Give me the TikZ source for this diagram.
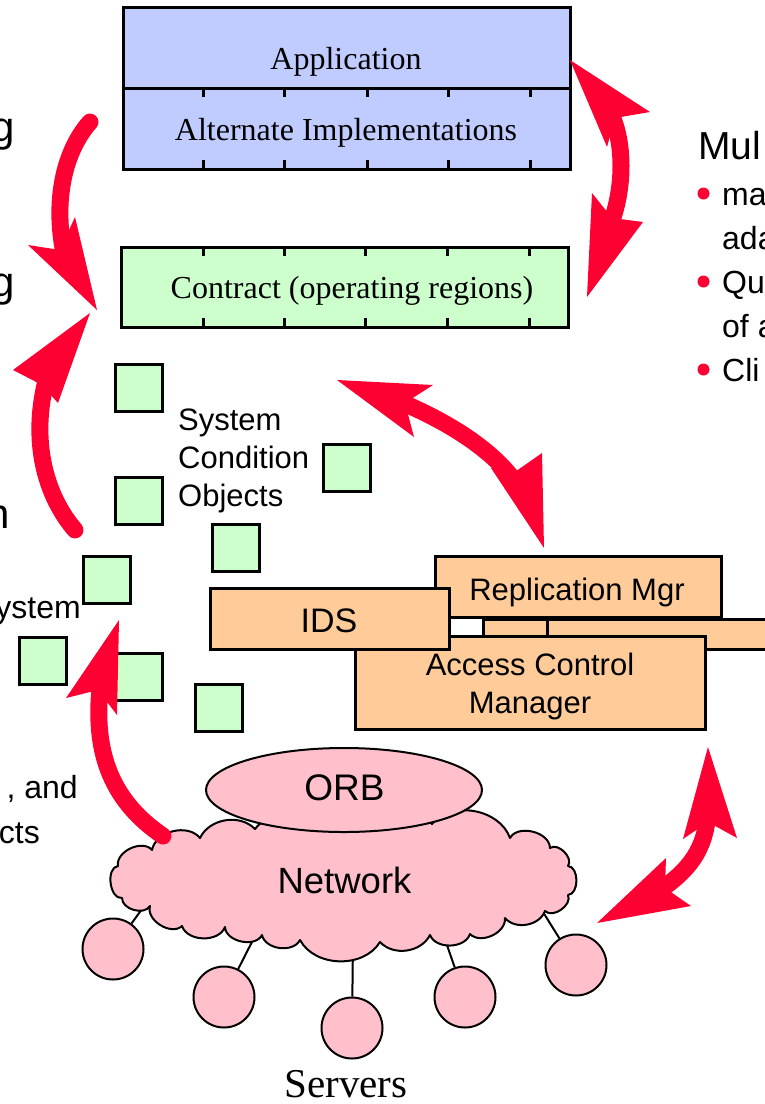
\documentclass[tikz,border=0pt]{standalone}
\usepackage{fontspec}
\setmainfont{Liberation Serif}
\setsansfont{Liberation Sans}
\usetikzlibrary{shapes.symbols,shapes.geometric}
\definecolor{appblue}{RGB}{192,204,255}
\definecolor{cgreen}{RGB}{204,255,204}
\definecolor{orng}{RGB}{255,204,153}
\definecolor{pnk}{RGB}{255,192,203}
\definecolor{ared}{RGB}{255,0,51}
\tikzset{
  boxstyle/.style={draw=black, line width=3pt, inner sep=0pt, outer sep=0pt, anchor=north west},
  appbox/.style={boxstyle, fill=appblue, minimum width=447pt, minimum height=81pt},
  conbox/.style={boxstyle, fill=cgreen, minimum width=447pt, minimum height=80pt},
  orbox/.style={boxstyle, fill=orng},
  sqbox/.style={draw=black, line width=2.5pt, fill=cgreen, minimum size=47pt, inner sep=0pt, anchor=north west},
  tickline/.style={line width=3pt},
  srv/.style={circle, draw=black, line width=2pt, fill=pnk, minimum size=61pt, inner sep=0pt},
  wire/.style={line width=2pt},
  cloudline/.style={draw=black, fill=pnk, line width=2pt, line join=round},
  serif/.style={inner sep=0pt, anchor=base, font=\fontsize{32pt}{36pt}\selectfont},
  sans/.style={inner sep=0pt, anchor=base, font=\sffamily\fontsize{31pt}{36pt}\selectfont},
  bigsans/.style={inner sep=0pt, anchor=base east, font=\sffamily\fontsize{42pt}{46pt}\selectfont},
  bodysans/.style={inner sep=0pt, anchor=base west, font=\sffamily\fontsize{32pt}{36pt}\selectfont},
  redbody/.style={draw=ared, line width=17pt, line cap=round},
  redhead/.style={fill=ared},
}
\begin{document}
\begin{tikzpicture}[x=1pt,y=-1pt]
\clip (0,0) rectangle (765,1104);
\fill[white] (0,0) rectangle (765,1104);

% ---- top boxes
\node[appbox] (app) at (123,7) {};
\node[appbox] (alt) at (123,88) {};
\foreach \x in {203,284,367,448,530} {
  \draw[tickline] (\x,88) -- (\x,97);
  \draw[tickline] (\x,160) -- (\x,169);
}
\node[serif] (applbl) at (346,69) {Application};
\node[serif] (altlbl) at (346,140) {Alternate Implementations};

\node[conbox] (con) at (121,247) {};
\foreach \x in {203,284,365,447,529} {
  \draw[tickline] (\x,247) -- (\x,256);
  \draw[tickline] (\x,318) -- (\x,327);
}
\node[serif] (conlbl) at (352,298) {Contract (operating regions)};

% ---- system condition objects
\node[sqbox] (q1) at (114,363) {};
\node[sqbox] (q2) at (322,443) {};
\node[sqbox] (q3) at (114,476) {};
\node[sqbox] (q4) at (211,523) {};
\node[sqbox] (q5) at (82,555) {};
\node[sqbox] (q6) at (18,636) {};
\node[sqbox] (q7) at (114,652) {};
\node[sqbox] (q8) at (194,683) {};
\node[sans, anchor=base west] (sco1) at (178,430) {System};
\node[sans, anchor=base west] (sco2) at (178,468) {Condition};
\node[sans, anchor=base west] (sco3) at (178,506) {Objects};

% ---- orange boxes
\node[orbox, minimum width=286pt, minimum height=61pt] (repl) at (435,556) {};
\node[orbox, minimum width=64pt, minimum height=30pt] (bk1) at (483,619) {};
\node[orbox, minimum width=240pt, minimum height=30pt] (bk2) at (547,619) {};
\node[orbox, minimum width=350pt, minimum height=93pt] (acm) at (355,636) {};
\node[orbox, minimum width=239pt, minimum height=61pt] (ids) at (210,588) {};
\node[sans] (repllbl) at (577,600) {Replication Mgr};
\node[sans, font=\sffamily\fontsize{34pt}{38pt}\selectfont] (idslbl) at (329,632) {IDS};
\node[sans] (acmlbl1) at (530,675) {Access Control};
\node[sans] (acmlbl2) at (530,713) {Manager};

% ---- network and servers
\node[srv] (c1) at (113,949) {};
\node[srv] (c2) at (224,997) {};
\node[srv] (c3) at (352,1028) {};
\node[srv] (c4) at (465,997) {};
\node[srv] (c5) at (576,965) {};
\coordinate (n1) at (150,898);
\coordinate (n2) at (258,930);
\coordinate (n3) at (353,940);
\coordinate (n4) at (440,925);
\coordinate (n5) at (538,904);
\draw[wire] (c1) -- (n1);
\draw[wire] (c2) -- (n2);
\draw[wire] (c3) -- (n3);
\draw[wire] (c4) -- (n4);
\draw[wire] (c5) -- (n5);
% cloud outline (valleys between puffs, clockwise)
\draw[cloudline] (118,866) to[bend left=75] (152,850) to[bend left=65] (200,838)
  to[bend left=55] (255,829) to[bend left=50] (315,826) to[bend left=45] (385,824)
  to[bend left=50] (432,824) to[bend left=60] (510,838) to[bend left=75] (550,848)
  to[bend left=80] (568,866) to[bend left=85] (568,895) to[bend left=80] (545,911)
  to[bend left=60] (505,918) to[bend left=70] (470,934) to[bend left=70] (430,935)
  to[bend left=55] (380,942) to[bend left=60] (300,940) to[bend left=70] (262,935)
  to[bend left=75] (225,927) to[bend left=70] (182,926) to[bend left=75] (150,906)
  to[bend left=75] (122,898) to[bend left=90] (118,866) -- cycle;
\node[sans, font=\sffamily\fontsize{36.5pt}{40pt}\selectfont] (net) at (344.5,893) {Network};
\node[ellipse, draw=black, fill=pnk, line width=2pt, minimum width=276pt, minimum height=84pt,
      inner sep=0pt] (orb) at (344,790) {};
\node[sans, font=\sffamily\fontsize{37pt}{40pt}\selectfont] (orblbl) at (344.5,800) {ORB};
\node[serif, font=\fontsize{41pt}{46pt}\selectfont] (srvlbl) at (346,1097) {Servers};

% ---- left text fragments
\node[bigsans] (lt1) at (15,141) {g};
\node[bigsans] (lt2) at (15,296) {g};
\node[bigsans] (lt3) at (10,528) {n};
\node[bodysans, anchor=base east] (lt4) at (81,618) {ystem};
\node[bodysans, anchor=base east] (lt5) at (78,798) {, and};
\node[bodysans, anchor=base east] (lt6) at (40,843) {cts};

% ---- right text fragments
\node[bodysans, font=\sffamily\fontsize{39pt}{44pt}\selectfont] (mul) at (698,159) {Mul};
\fill[ared] (703.5,193.5) circle (6pt);
\fill[ared] (703.5,281.5) circle (6pt);
\fill[ared] (703.5,369.5) circle (6pt);
\node[bodysans] (r1) at (722,205) {ma};
\node[bodysans] (r2) at (722,249) {ada};
\node[bodysans] (r3) at (722,293) {Qu};
\node[bodysans] (r4) at (722,337) {of a};
\node[bodysans] (r5) at (722,381) {Cli};

% ---- red arrows
% A
\coordinate (aTail) at (90,122);
\coordinate (aEnd) at (65,258);
\coordinate (aTip) at (97,310);
\coordinate (aB1) at (28,245);
\coordinate (aN) at (60,250);
\coordinate (aB2) at (75,217);
\draw[redbody] (aTail) .. controls (65,150) and (52,200) .. (aEnd);
\fill[redhead] (aTip) -- (aB1) -- (aN) -- (aB2) -- cycle;
% B
\coordinate (bTail) at (75,530);
\coordinate (bEnd) at (47,377);
\coordinate (bTip) at (90,313);
\coordinate (bB1) at (13,370);
\coordinate (bN) at (42,385);
\coordinate (bB2) at (58,403);
\draw[redbody] (bTail) .. controls (45,495) and (30,440) .. (bEnd);
\fill[redhead] (bTip) -- (bB1) -- (bN) -- (bB2) -- cycle;
% C
\coordinate (cTail) at (163,836);
\coordinate (cEnd) at (101,680);
\coordinate (cTip) at (119,620);
\coordinate (cB1) at (66,698);
\coordinate (cN) at (98,690);
\coordinate (cB2) at (117,715);
\draw[redbody] (cTail) .. controls (110,800) and (92,750) .. (cEnd);
\fill[redhead] (cTip) -- (cB1) -- (cN) -- (cB2) -- cycle;
% D (double)
\coordinate (dEnd1) at (609,110);
\coordinate (dEnd2) at (609,228);
\draw[redbody] (dEnd1) .. controls (625,140) and (625,190) .. (dEnd2);
\fill[redhead] (570,60) -- (650,112) -- (615,118) -- (607,147) -- cycle;
\fill[redhead] (587,297) -- (592,193) -- (612,218) -- (643,222) -- cycle;
% E (double)
\coordinate (eEnd1) at (396,400);
\coordinate (eEnd2) at (516,483);
\draw[redbody] (eEnd1) .. controls (440,418) and (490,446) .. (eEnd2);
\fill[redhead] (337,380) -- (433,385) -- (405,403) -- (414,437) -- cycle;
\fill[redhead] (544,548) -- (491,468) -- (512,474) -- (542,453) -- cycle;
% F (double)
\coordinate (fEnd1) at (708,812);
\coordinate (fEnd2) at (656,893);
\draw[redbody] (fEnd1) .. controls (705,850) and (690,870) .. (fEnd2);
\fill[redhead] (708,747) -- (683,839) -- (708,822) -- (737,838) -- cycle;
\fill[redhead] (597,923) -- (666,858) -- (665,888) -- (691,906) -- cycle;
\end{tikzpicture}
\end{document}
